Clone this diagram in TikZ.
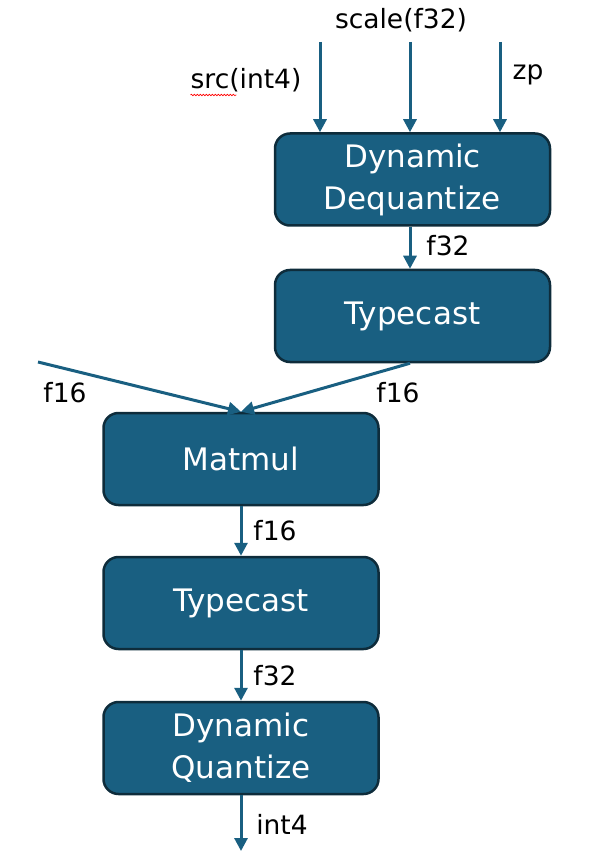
\documentclass[tikz,border=0pt]{standalone}
\usepackage{fontspec}
\setmainfont{DejaVu Sans}
\usepackage{tikz}
\usetikzlibrary{arrows.meta,decorations.pathmorphing}
\definecolor{opblue}{HTML}{195F81}
\definecolor{opedge}{HTML}{0E2C3B}

\begin{document}
\begin{tikzpicture}[x=1pt,y=-1pt,
  op/.style={rectangle,rounded corners=15pt,fill=opblue,draw=opedge,
    line width=2.5pt,minimum width=275pt,minimum height=92pt,align=center,
    text=white,font=\fontsize{31}{42}\selectfont},
  tlabel/.style={inner sep=0pt,font=\fontsize{26.5}{30}\selectfont},
  flow/.style={draw=opblue,line width=3pt,-{Triangle[length=13pt,width=13pt]}}]
\useasboundingbox (0,0) rectangle (606,858);
\node[op] (deq) at (412.5,179.5) {Dynamic\\Dequantize};
\node[op] (tc1) at (412.5,316) {Typecast};
\node[op] (mm) at (241,459) {Matmul};
\node[op] (tc2) at (241,603) {Typecast};
\node[op] (qnt) at (241,748) {Dynamic\\Quantize};
\coordinate (src) at (320,42);
\coordinate (scl) at (410,42);
\coordinate (zp) at (500,42);
\coordinate (act) at (38,362);
\coordinate (out) at (241,851);
\node[tlabel] (lscl) at (401,20) {scale(f32)};
\node[tlabel] (lsrc) at (246,80) {src(int4)};
\node[tlabel] (lzp) at (528,75) {zp};
\node[tlabel] (l1) at (448,246) {f32};
\node[tlabel] (l2) at (65,393) {f16};
\node[tlabel] (l3) at (398,393) {f16};
\node[tlabel] (l4) at (275,531) {f16};
\node[tlabel] (l5) at (275,676) {f32};
\node[tlabel] (l6) at (282,824) {int4};
\draw[red,line width=.6pt,decorate,decoration={snake,amplitude=.8pt,segment length=3pt}]
  (lsrc.south west) ++(0,3) -- ++(46,0);
\draw[flow] (src) -- (src |- deq.north);
\draw[flow] (scl) -- (scl |- deq.north);
\draw[flow] (zp) -- (zp |- deq.north);
\draw[flow] (deq.south -| scl) -- (tc1.north -| scl);
\draw[flow] (act) -- (mm.north);
\draw[flow] (tc1.south -| scl) -- (mm.north);
\draw[flow] (mm) -- (tc2);
\draw[flow] (tc2) -- (qnt);
\draw[flow] (qnt) -- (out);
\end{tikzpicture}
\end{document}
